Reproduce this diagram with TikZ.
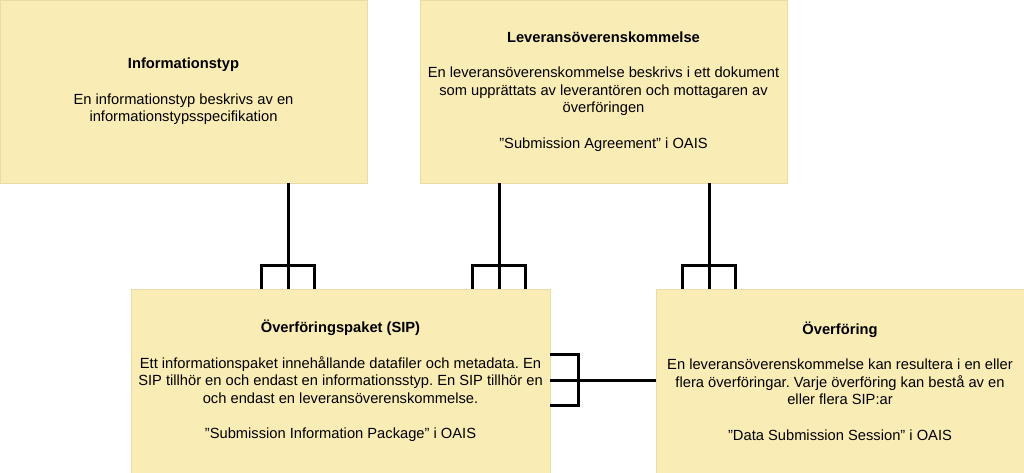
\documentclass[tikz,border=0pt]{standalone}
\usepackage{fontspec}
\setmainfont{Liberation Sans}
\usetikzlibrary{calc}
\definecolor{boxfill}{HTML}{F9ECB5}
\definecolor{boxline}{HTML}{EADCA4}
\frenchspacing
\begin{document}
\begin{tikzpicture}[x=1pt,y=-1pt,
  entity/.style={draw=boxline,line width=0.6pt,fill=boxfill,inner sep=0pt,align=center,
    font=\fontsize{14.7}{17.6}\selectfont\frenchspacing},
  conn/.style={draw=black,line width=3pt,line cap=butt}]
\useasboundingbox (0,0) rectangle (1024,473);
\node[entity,minimum width=367pt,minimum height=183pt] (info) at (183.5,91.5)
  {\textbf{Informationstyp}\\[17.6pt]En informationstyp beskrivs av en\\informationstypsspecifikation};
\node[entity,minimum width=367pt,minimum height=183pt] (lev) at (603.5,91.5)
  {\textbf{Leveransöverenskommelse}\\[17.6pt]En leveransöverenskommelse beskrivs i ett dokument\\som upprättats av leverantören och mottagaren av\\överföringen\\[17.6pt]”Submission Agreement” i OAIS};
\node[entity,minimum width=419pt,minimum height=184pt] (sip) at (340.5,381)
  {\textbf{Överföringspaket (SIP)}\\[17.6pt]Ett informationspaket innehållande datafiler och metadata. En\\SIP tillhör en och endast en informationsstyp. En SIP tillhör en\\och endast en leveransöverenskommelse.\\[17.6pt]”Submission Information Package” i OAIS};
\node[entity,minimum width=368pt,minimum height=184pt] (ovf) at (840,381)
  {\textbf{Överföring}\\[17.6pt]En leveransöverenskommelse kan resultera i en eller\\flera överföringar. Varje överföring kan bestå av en\\eller flera SIP:ar\\[17.6pt]”Data Submission Session” i OAIS};
\coordinate (x1) at (288,0);
\coordinate (x2) at (499,0);
\coordinate (x3) at (709,0);
\coordinate (ym) at (0,380);
% vertical connectors with crow's feet
\foreach \src/\dst/\cx in {info/sip/x1, lev/sip/x2, lev/ovf/x3}{
  \draw[conn] (\src.south -| \cx) -- (\dst.north -| \cx);
  \draw[conn] ($(\dst.north -| \cx)+(-26.5,0)$) -- ++(0,-23) -- ++(53,0) -- ++(0,23);
}
% horizontal connector with crow's foot
\draw[conn] (sip.east |- ym) -- (ovf.west |- ym);
\draw[conn] ($(sip.east |- ym)+(0,-26)$) -- ++(28,0) -- ++(0,51) -- ++(-28,0);
\end{tikzpicture}
\end{document}
